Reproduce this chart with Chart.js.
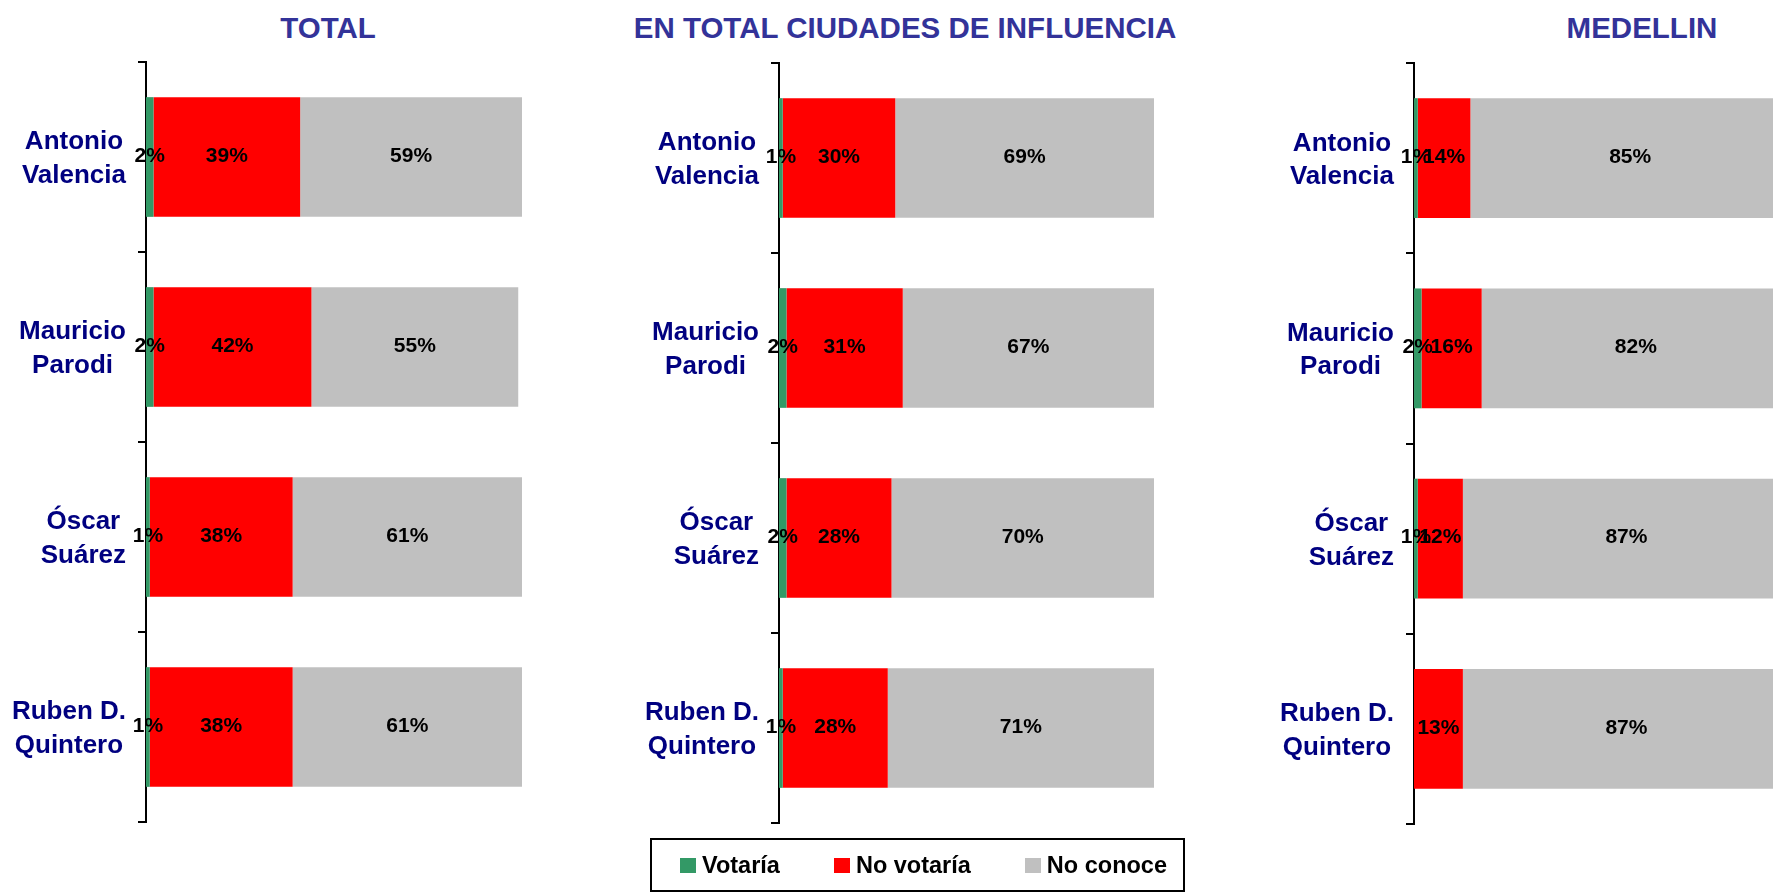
<!DOCTYPE html>
<html lang="es">
<head>
<meta charset="utf-8">
<title>Intención de voto por candidato</title>
<script src="https://cdn.jsdelivr.net/npm/chart.js@4.4.1/dist/chart.umd.min.js"></script>
<style>
  html, body { margin: 0; padding: 0; width: 1773px; height: 892px; overflow: hidden; background: #fff; }
  body { position: relative; font-family: "Liberation Sans", Arial, sans-serif; }
  .panel { position: absolute; top: 0; height: 892px; }
  .title {
    position: absolute; top: 10px; width: 700px; margin-left: -350px;
    text-align: center; font-weight: bold; font-size: 29.5px; line-height: 36px; color: #333399;
  }
  #legend {
    position: absolute; left: 650px; top: 838px; width: 503px; height: 50px;
    border: 2px solid #000; display: flex; align-items: center; gap: 54px;
    padding-left: 28px; box-sizing: content-box;
  }
  #legend .item { display: flex; align-items: center; font-weight: bold; font-size: 23.5px; color: #000; }
  #legend .swatch { width: 16px; height: 15px; margin-right: 6px; }
</style>
</head>
<body>

<div class="title" style="left:328px">TOTAL</div>
<div class="title" style="left:905px">EN TOTAL CIUDADES DE INFLUENCIA</div>
<div class="title" style="left:1642px">MEDELLIN</div>

<div class="panel" id="panelTotal"><canvas id="chartTotal"></canvas></div>
<div class="panel" id="panelInfluencia"><canvas id="chartInfluencia"></canvas></div>
<div class="panel" id="panelMedellin"><canvas id="chartMedellin"></canvas></div>

<div id="legend"></div>

<script>
// Candidates and answer categories
const candidates = [['Antonio', 'Valencia'], ['Mauricio', 'Parodi'], ['Óscar', 'Suárez'], ['Ruben D.', 'Quintero']];
const answers = ['Votaría', 'No votaría', 'No conoce'];
const answerColors = ['#339966', '#FF0000', '#C0C0C0'];

// Percentages per group (same order as candidates)
const totalVotaria = [2, 2, 1, 1];
const totalNoVotaria = [39, 42, 38, 38];
const totalNoConoce = [59, 55, 61, 61];

const influenciaVotaria = [1, 2, 2, 1];
const influenciaNoVotaria = [30, 31, 28, 28];
const influenciaNoConoce = [69, 67, 70, 71];

const medellinVotaria = [1, 2, 1, 0];
const medellinNoVotaria = [14, 16, 12, 13];
const medellinNoConoce = [85, 82, 87, 87];

const axisTicks = [0, 100];

Chart.defaults.font.family = '"Liberation Sans", Arial, sans-serif';

// Candidate names: each block right-aligned to the axis, lines centred inside the block
const candidateLabels = {
  id: 'candidateLabels',
  afterDraw(chart) {
    const { ctx } = chart;
    const y = chart.scales.y;
    ctx.save();
    ctx.font = 'bold 26px "Liberation Sans", Arial, sans-serif';
    ctx.fillStyle = '#000080';
    ctx.textAlign = 'center';
    ctx.textBaseline = 'middle';
    chart.data.labels.forEach((lines, i) => {
      const mid = y.getPixelForTick(i) + 2;
      const widest = Math.max(...lines.map(l => ctx.measureText(l).width));
      const cx = y.right - 20 - widest / 2;
      lines.forEach((line, j) => {
        ctx.fillText(line, cx, mid + (j - (lines.length - 1) / 2) * 33.5);
      });
    });
    ctx.restore();
  }
};

// Percent labels centred on each segment
const segmentLabels = {
  id: 'segmentLabels',
  afterDatasetsDraw(chart) {
    const { ctx } = chart;
    ctx.save();
    ctx.font = 'bold 21px "Liberation Sans", Arial, sans-serif';
    ctx.fillStyle = '#000';
    ctx.textAlign = 'center';
    ctx.textBaseline = 'middle';
    chart.data.datasets.forEach((ds, di) => {
      chart.getDatasetMeta(di).data.forEach((bar, i) => {
        const v = ds.data[i];
        if (!v) return;
        ctx.fillText(v + '%', (bar.x + bar.base) / 2, bar.y - 1);
      });
    });
    ctx.restore();
  }
};

function makeChart(canvasId, panelId, layout, series) {
  const panel = document.getElementById(panelId);
  panel.style.left = layout.left + 'px';
  panel.style.width = (layout.plotRight - layout.left + layout.padRight) + 'px';

  return new Chart(document.getElementById(canvasId), {
    type: 'bar',
    data: {
      labels: candidates,
      datasets: series.map((values, k) => ({
        label: answers[k],
        data: values,
        backgroundColor: answerColors[k],
        borderWidth: 0,
        barPercentage: 1,
        categoryPercentage: 0.63
      }))
    },
    options: {
      indexAxis: 'y',
      responsive: true,
      maintainAspectRatio: false,
      animation: false,
      layout: { padding: { top: layout.top, bottom: 892 - layout.bottom, left: 0, right: layout.padRight } },
      plugins: { legend: { display: false }, tooltip: { enabled: false }, title: { display: false } },
      scales: {
        x: { stacked: true, display: false, min: axisTicks[0], max: axisTicks[1] },
        y: {
          stacked: true,
          ticks: { display: false },
          grid: { offset: true, drawOnChartArea: false, drawTicks: true, tickLength: 8, color: '#000', lineWidth: 2 },
          border: { display: true, color: '#000', width: 2 },
          afterFit(scale) { scale.width = layout.axisX - layout.left; }
        }
      }
    },
    plugins: [segmentLabels, candidateLabels]
  });
}

makeChart('chartTotal', 'panelTotal',
  { left: 0, axisX: 146, plotRight: 522, padRight: 10, top: 62, bottom: 822 },
  [totalVotaria, totalNoVotaria, totalNoConoce]);

makeChart('chartInfluencia', 'panelInfluencia',
  { left: 600, axisX: 779, plotRight: 1154, padRight: 10, top: 63, bottom: 823 },
  [influenciaVotaria, influenciaNoVotaria, influenciaNoConoce]);

makeChart('chartMedellin', 'panelMedellin',
  { left: 1240, axisX: 1414, plotRight: 1790, padRight: 10, top: 63, bottom: 824 },
  [medellinVotaria, medellinNoVotaria, medellinNoConoce]);

// Shared legend under the middle chart
const legendEl = document.getElementById('legend');
answers.forEach((name, k) => {
  const item = document.createElement('div');
  item.className = 'item';
  const sw = document.createElement('span');
  sw.className = 'swatch';
  sw.style.background = answerColors[k];
  item.appendChild(sw);
  item.appendChild(document.createTextNode(name));
  legendEl.appendChild(item);
});
</script>
</body>
</html>
